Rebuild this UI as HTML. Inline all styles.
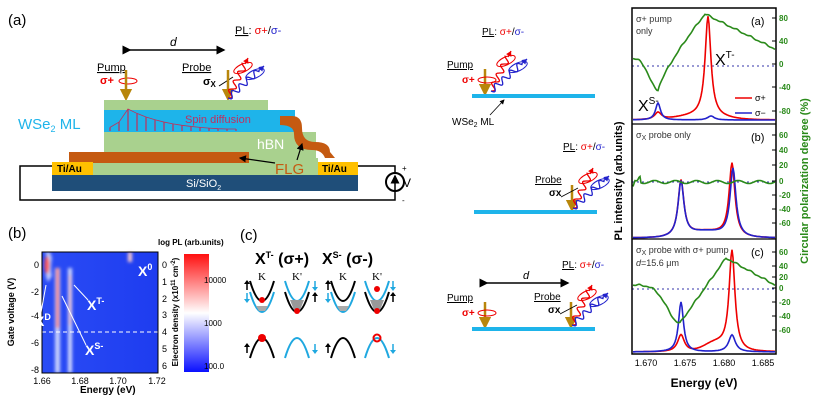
<!DOCTYPE html>
<html><head><meta charset="utf-8"><style>
body{margin:0;background:#fff;}
svg{display:block;font-family:"Liberation Sans",sans-serif;}
</style></head><body>
<svg id="s" width="840" height="406" viewBox="0 0 840 406" xmlns="http://www.w3.org/2000/svg">
<defs>
<marker id="ab" markerWidth="6" markerHeight="6" refX="5" refY="3" orient="auto"><path d="M0,0 L6,3 L0,6z" fill="#000"/></marker>
<marker id="ag" markerWidth="5" markerHeight="5" refX="2.5" refY="2.5" orient="auto"><path d="M0,0 L5,2.5 L0,5z" fill="#b8860b"/></marker>
<linearGradient id="cb" x1="0" y1="0" x2="0" y2="1"><stop offset="0" stop-color="#ff1010"/><stop offset="0.5" stop-color="#ffffff"/><stop offset="1" stop-color="#0a10ff"/></linearGradient>
<linearGradient id="hm" x1="0" y1="0" x2="1" y2="0"><stop offset="0" stop-color="#2a4cf5"/><stop offset="1" stop-color="#1e3cf0"/></linearGradient>
<filter id="bl"><feGaussianBlur stdDeviation="1.5"/></filter>
</defs>

<!-- ===== Panel (a) left ===== -->
<text x="8" y="25" font-size="15">(a)</text>
<line x1="130" y1="50" x2="224" y2="50" stroke="#000" stroke-width="1.5" marker-end="url(#ab)" marker-start="url(#ab)"/>
<text x="170" y="46" font-size="12" font-style="italic">d</text>
<text x="235" y="34" font-size="11"><tspan text-decoration="underline">PL</tspan>: <tspan fill="#e00">σ+</tspan>/<tspan fill="#22c">σ-</tspan></text>
<text x="97" y="71" font-size="11" text-decoration="underline">Pump</text>
<text x="100" y="84" font-size="11" font-weight="bold" fill="#e00">σ+</text>
<ellipse cx="128" cy="81" rx="9" ry="3" fill="none" stroke="#e00" stroke-width="1"/>
<line x1="126" y1="70" x2="126" y2="95" stroke="#b8860b" stroke-width="2.5" marker-end="url(#ag)"/>
<text x="182" y="71" font-size="11" text-decoration="underline">Probe</text>
<text x="203" y="85" font-size="11" font-weight="bold">σ<tspan font-size="8" dy="2">X</tspan></text>
<line x1="219" y1="86" x2="233" y2="77" stroke="#000" stroke-width="1"/>
<line x1="228" y1="70" x2="228" y2="95" stroke="#b8860b" stroke-width="2.5" marker-end="url(#ag)"/>
<g id="plA"></g>
<!-- layers -->
<rect x="104" y="100" width="164" height="12" fill="#a9d18e"/>
<rect x="104" y="110" width="191" height="22" fill="#1eb4ea"/>
<rect x="104" y="132" width="212" height="30" fill="#a9d18e"/>
<rect x="93" y="158" width="225" height="17" fill="#a9d18e"/>
<rect x="69" y="152" width="180" height="11" fill="#c55a11"/>
<path d="M280,116 L292,116 Q302,116 302,128 Q302,142 315,142 Q330,142 330,152 L335,158 L325,158 Q322,150 312,150 Q294,150 294,134 Q294,125 280,125z" fill="#c55a11"/>
<rect x="52" y="162" width="41" height="13" fill="#ffc000"/>
<rect x="318" y="162" width="40" height="13" fill="#ffc000"/>
<text x="57" y="172" font-size="10" font-weight="bold">Ti/Au</text>
<text x="322" y="172" font-size="10" font-weight="bold">Ti/Au</text>
<rect x="52" y="175" width="306" height="16" fill="#1f4e79"/>
<text x="186" y="187" font-size="11" fill="#fff">Si/SiO<tspan font-size="7" dy="3">2</tspan></text>
<path d="M52,166 H20 V200 H395 V166 H358" fill="none" stroke="#000" stroke-width="1.5"/>
<circle cx="395" cy="182" r="9" fill="#fff" stroke="#000" stroke-width="2"/>
<line x1="395" y1="190" x2="395" y2="176" stroke="#000" stroke-width="1.5" marker-end="url(#ab)"/>
<text x="402" y="171" font-size="8">+</text><text x="402" y="203" font-size="8">-</text>
<text x="403" y="187" font-size="12">V</text>
<text x="18" y="129" font-size="15" fill="#1eb4ea">WSe<tspan font-size="9" dy="3">2</tspan><tspan dy="-3"> ML</tspan></text>
<g id="spin"></g>
<text x="185" y="123" font-size="11" fill="#c03060">Spin diffusion</text>
<text x="257" y="149" font-size="14" fill="#fff">hBN</text>
<text x="275" y="174" font-size="15" fill="#c55a11">FLG</text>
<line x1="275" y1="163" x2="240" y2="158" stroke="#000" stroke-width="1.2" marker-end="url(#ab)"/>
<line x1="297" y1="160" x2="302" y2="144" stroke="#000" stroke-width="1.2" marker-end="url(#ab)"/>

<!-- ===== Panel (b) heatmap ===== -->
<text x="8" y="238" font-size="15">(b)</text>
<rect x="42" y="252" width="116" height="121" fill="url(#hm)"/>
<g filter="url(#bl)">
<path d="M45,252 Q50,262 47,268 Q44,274 48,282 L52,276 Q50,268 52,258 L50,252z" fill="#fff" opacity="0.7"/>
<ellipse cx="47" cy="265" rx="2.5" ry="9" fill="#f55"/>
<rect x="55" y="268" width="5" height="105" fill="#fff" opacity="0.75"/>
<rect x="56" y="268" width="3" height="60" fill="#f77"/>
<rect x="68" y="268" width="4" height="105" fill="#fff" opacity="0.8"/>
<rect x="69" y="275" width="2" height="50" fill="#fbb"/>
<rect x="128" y="252" width="4" height="10" fill="#fcc"/>
</g>
<line x1="42" y1="332" x2="158" y2="332" stroke="#fff" stroke-dasharray="4,3" stroke-width="1"/>
<rect x="42" y="252" width="116" height="121" fill="none" stroke="#000"/>
<text x="138" y="276" font-size="14" font-weight="bold" fill="#fff">X<tspan font-size="9" dy="-6">0</tspan></text>
<text x="35" y="326" font-size="14" font-weight="bold" fill="#fff">X<tspan font-size="9" dy="-6">D</tspan></text>
<text x="87" y="310" font-size="14" font-weight="bold" fill="#fff">X<tspan font-size="9" dy="-6">T-</tspan></text>
<text x="85" y="355" font-size="14" font-weight="bold" fill="#fff">X<tspan font-size="9" dy="-6">S-</tspan></text>
<line x1="88" y1="300" x2="74" y2="285" stroke="#fff"/><line x1="86" y1="345" x2="62" y2="296" stroke="#fff"/><line x1="40" y1="318" x2="46" y2="285" stroke="#fff"/>
<g font-size="9" text-anchor="end"><text x="39" y="268">0</text><text x="39" y="295">-2</text><text x="39" y="319">-4</text><text x="39" y="346">-6</text><text x="39" y="373">-8</text></g>
<g font-size="9" text-anchor="middle"><text x="42" y="384">1.66</text><text x="80" y="384">1.68</text><text x="118" y="384">1.70</text><text x="157" y="384">1.72</text></g>
<text x="80" y="393" font-size="10" font-weight="bold">Energy (eV)</text>
<g font-size="9"><text x="162" y="268">0</text><text x="162" y="285">1</text><text x="162" y="302">2</text><text x="162" y="318">3</text><text x="162" y="335">4</text><text x="162" y="352">5</text><text x="162" y="369">6</text></g>
<text transform="translate(14,312) rotate(-90)" font-size="9" font-weight="bold" text-anchor="middle">Gate voltage (V)</text>
<text transform="translate(178,312) rotate(-90)" font-size="8" font-weight="bold" text-anchor="middle">Electron density (x10<tspan font-size="6" dy="-3">11</tspan><tspan dy="3"> cm</tspan><tspan font-size="6" dy="-3">-2</tspan><tspan dy="3">)</tspan></text>
<text x="158" y="245" font-size="8" font-weight="bold">log PL (arb.units)</text>
<rect x="184" y="254" width="25" height="118" fill="url(#cb)"/>
<g font-size="8"><text x="204" y="283">10000</text><text x="204" y="326">1000</text><text x="204" y="369">100.0</text></g>

<!-- ===== Panel (c) bands ===== -->
<text x="240" y="240" font-size="15">(c)</text>
<text x="255" y="264" font-size="16" font-weight="bold">X<tspan font-size="9" dy="-6">T-</tspan><tspan dy="6"> (σ+)</tspan></text>
<text x="322" y="264" font-size="16" font-weight="bold">X<tspan font-size="9" dy="-6">S-</tspan><tspan dy="6"> (σ-)</tspan></text>
<g font-family="Liberation Serif" font-size="11" text-anchor="middle"><text x="262" y="280">K</text><text x="297" y="280">K'</text><text x="343" y="280">K</text><text x="377" y="280">K'</text></g>
<g id="bands" fill="none" stroke-width="2"></g>

<!-- ===== Middle schematics ===== -->
<g id="mid"></g>
<rect x="472" y="94" width="123" height="4" fill="#1eb4ea"/>
<rect x="474" y="210" width="123" height="4" fill="#1eb4ea"/>
<rect x="472" y="327" width="123" height="4" fill="#1eb4ea"/>
<text x="452" y="125" font-size="10">WSe<tspan font-size="7" dy="2">2</tspan><tspan dy="-2"> ML</tspan></text>
<line x1="490" y1="115" x2="504" y2="100" stroke="#000" stroke-width="0.8" marker-end="url(#ab)"/>
<line x1="487" y1="283" x2="568" y2="283" stroke="#000" stroke-width="1.5" marker-end="url(#ab)" marker-start="url(#ab)"/>
<text x="523" y="279" font-size="11" font-style="italic">d</text>

<!-- ===== Right plots ===== -->
<g id="plot"></g>
<rect x="632" y="8" width="144" height="346" fill="none" stroke="#000" stroke-width="1.5"/>
<line x1="632" y1="124" x2="776" y2="124" stroke="#000" stroke-width="1.2"/>
<line x1="632" y1="239" x2="776" y2="239" stroke="#000" stroke-width="1.2"/>
<g font-size="9" fill="#333"><text x="636" y="22">σ+ pump</text><text x="636" y="34">only</text><text x="636" y="138">σ<tspan font-size="7" dy="2">X</tspan><tspan dy="-2"> probe only</tspan></text><text x="636" y="253">σ<tspan font-size="7" dy="2">X</tspan><tspan dy="-2"> probe with σ+ pump</tspan></text><text x="636" y="266"><tspan font-style="italic">d</tspan>=15.6 μm</text></g>
<g font-size="11"><text x="751" y="25">(a)</text><text x="751" y="141">(b)</text><text x="751" y="256">(c)</text></g>
<text x="715" y="65" font-size="16">X<tspan font-size="10" dy="-7">T-</tspan></text>
<text x="638" y="111" font-size="16">X<tspan font-size="10" dy="-7">S-</tspan></text>
<line x1="735" y1="98" x2="752" y2="98" stroke="#e00" stroke-width="1.5"/><text x="755" y="101" font-size="9">σ+</text>
<line x1="735" y1="113" x2="752" y2="113" stroke="#22c" stroke-width="1.5"/><text x="755" y="116" font-size="9">σ−</text>
<g font-size="9" text-anchor="middle"><text x="646" y="366">1.670</text><text x="685" y="366">1.675</text><text x="724" y="366">1.680</text><text x="763" y="366">1.685</text></g>
<text x="704" y="387" font-size="12" font-weight="bold" text-anchor="middle">Energy (eV)</text>
<text transform="translate(622,181) rotate(-90)" font-size="11" font-weight="bold" text-anchor="middle">PL intensity (arb.units)</text>
<text transform="translate(808,181) rotate(-90)" font-size="11" font-weight="bold" fill="#2a8a1a" text-anchor="middle">Circular polarization degree (%)</text>
<g font-size="8" font-weight="bold" fill="#2a8a1a" id="rt"></g>
</svg>
<script>
var NS="http://www.w3.org/2000/svg";
function el(p,t,a){var e=document.createElementNS(NS,t);for(var k in a)e.setAttribute(k,a[k]);document.getElementById(p).appendChild(e);return e;}
function wave(p,x0,y0,x1,y1,col,amp){var dx=x1-x0,dy=y1-y0,L=Math.hypot(dx,dy),ux=dx/L,uy=dy/L,nx=-uy,ny=ux,d="";for(var i=0;i<=80;i++){var s=i/80*L*0.85,w=amp*Math.sin(s/1.6);d+=(i?"L":"M")+(x0+ux*s+nx*w).toFixed(1)+","+(y0+uy*s+ny*w).toFixed(1);}
el(p,"path",{d:d,fill:"none",stroke:col,"stroke-width":1.3});
var ex=x0+ux*L*0.85,ey=y0+uy*L*0.85;el(p,"line",{x1:ex,y1:ey,x2:x1,y2:y1,stroke:col,"stroke-width":1.3});
el(p,"path",{d:"M"+x1+","+y1+"L"+(x1-ux*5+nx*3)+","+(y1-uy*5+ny*3)+"L"+(x1-ux*5-nx*3)+","+(y1-uy*5-ny*3)+"z",fill:col});
el(p,"ellipse",{cx:x0+ux*L*0.75,cy:y0+uy*L*0.75,rx:10,ry:4,fill:"none",stroke:col,"stroke-width":1,transform:"rotate(-25 "+(x0+ux*L*0.75)+" "+(y0+uy*L*0.75)+")"});}
function pl(p,x,y){wave(p,x,y,x+20,y-40,"#e00",3);wave(p,x,y,x+36,y-32,"#22c",3);}
pl("plA",228,98);
// spin arrows
(function(){var d="";for(var i=0;i<15;i++){var x=110+i*9,h;if(x<128)h=22*Math.exp(-(128-x)/10);else h=Math.max(2,22*Math.exp(-(x-128)/40));el("spin","line",{x1:x,y1:131,x2:x,y2:131-h,stroke:"#c0305a","stroke-width":1.2});d+=(i?"L":"M")+x+","+(131-h);}el("spin","path",{d:d,fill:"none",stroke:"#c0305a","stroke-width":0.8});})();
// middle
function pump(x,y){el("mid","line",{x1:x,y1:y-25,x2:x,y2:y-4,stroke:"#b8860b","stroke-width":2.5,"marker-end":"url(#ag)"});el("mid","ellipse",{cx:x+2,cy:y-14,rx:9,ry:3,fill:"none",stroke:"#e00"});
var t=el("mid","text",{x:x-23,y:y-11,"font-size":10,"font-weight":"bold",fill:"#e00"});t.textContent="σ+";var u=el("mid","text",{x:x-38,y:y-26,"font-size":10,"text-decoration":"underline"});u.textContent="Pump";}
function probe(x,y){el("mid","line",{x1:x,y1:y-25,x2:x,y2:y-4,stroke:"#b8860b","stroke-width":2.5,"marker-end":"url(#ag)"});var u=el("mid","text",{x:x-37,y:y-27,"font-size":10,"text-decoration":"underline"});u.textContent="Probe";var t=el("mid","text",{x:x-23,y:y-14,"font-size":10,"font-weight":"bold"});t.textContent="σx";el("mid","line",{x1:x-11,y1:y-13,x2:x+6,y2:y-22,stroke:"#000","stroke-width":0.8});}
function plabel(x,y){var t=el("mid","text",{x:x,y:y,"font-size":10});t.innerHTML='<tspan text-decoration="underline">PL</tspan>: <tspan fill="#e00">σ+</tspan>/<tspan fill="#22c">σ-</tspan>';}
pump(485,94);pl("mid",491,91);plabel(482,35);
probe(572,210);pl("mid",573,208);plabel(563,150);
pump(485,327);probe(571,327);pl("mid",572,325);plabel(562,268);
// bands
function par(cx,top,col,up){var d="M"+(cx-12)+","+(up?top+20:top);d+=" Q"+cx+","+(up?top-20:top+40)+" "+(cx+12)+","+(up?top+20:top);el("bands","path",{d:d,stroke:col});}
function ar(x,y,up,col){el("bands","line",{x1:x,y1:up?y+9:y,x2:x,y2:up?y+2:y+7,stroke:col,"stroke-width":1.5});el("bands","path",{d:up?"M"+(x-3)+","+(y+3)+"L"+x+","+(y-1)+"L"+(x+3)+","+(y+3)+"z":"M"+(x-3)+","+(y+6)+"L"+x+","+(y+10)+"L"+(x+3)+","+(y+6)+"z",fill:col,stroke:"none"});}
var bl="#000",cy="#1fa8e0";
par(262,281,bl);par(262,292,cy);par(297,281,cy);par(297,292,bl);par(343,281,bl);par(343,292,cy);par(377,281,cy);par(377,292,bl);
el("bands","path",{d:"M290,300 L304,300 L300,310 L294,310z",fill:"#999",stroke:"none"});el("bands","path",{d:"M370,300 L384,300 L380,310 L374,310z",fill:"#999",stroke:"none"});
el("bands","path",{d:"M256,306 L268,306 L265,311 L259,311z",fill:"#aaa",stroke:"none"});el("bands","path",{d:"M337,306 L349,306 L346,311 L340,311z",fill:"#aaa",stroke:"none"});
[[262,300],[297,311],[377,311],[377,289]].forEach(function(p){el("bands","circle",{cx:p[0],cy:p[1],r:3,fill:"#e00",stroke:"none"});});
ar(247,281,1,bl);ar(247,293,0,cy);ar(315,281,0,cy);ar(315,293,1,bl);ar(328,281,1,bl);ar(328,293,0,cy);ar(393,281,0,cy);ar(393,293,1,bl);
par(262,338,bl,1);par(297,338,cy,1);par(343,338,bl,1);par(377,338,cy,1);
el("bands","circle",{cx:262,cy:338,r:4,fill:"#e00",stroke:"none"});el("bands","circle",{cx:377,cy:338,r:3.5,fill:"none",stroke:"#e00"});
ar(247,344,1,bl);ar(315,344,0,cy);ar(328,344,1,bl);ar(393,344,0,cy);
// plots
function lor(x,c,w){return 1/(1+Math.pow((x-c)/w,2));}
function nz(x){return 0.6*Math.sin(x*0.45)+0.4*Math.sin(x*0.9+1);}
function curve(f,col){var d="";for(var x=633;x<=775;x+=1){d+=(x>633?"L":"M")+x+","+f(x).toFixed(1);}el("plot","path",{d:d,fill:"none",stroke:col,"stroke-width":1.6});}
[66,182,289].forEach(function(y){el("plot","line",{x1:632,y1:y,x2:776,y2:y,stroke:"#33a","stroke-width":1,"stroke-dasharray":"2,3"});});
// a
curve(function(x){return 120-100*lor(x,708,3.5)-7*lor(x,658,4)-4*Math.exp(-(x-700)*(x-700)/900);},"#e00");
curve(function(x){return 120-17*lor(x,658,3)-4*lor(x,711,4);},"#22c");
curve(function(x){var y;if(x<658)y=58+32*Math.exp(-Math.pow((x-658)/12,2));else if(x<705)y=90-76*Math.pow((x-658)/47,0.8);else y=14+(x-705)*0.5;return y+nz(x);},"#2a8a1a");
// b
curve(function(x){return 238-56*lor(x,681,3.5)-73*lor(x,732,3.5)-6*Math.exp(-Math.pow((x-706)/25,2));},"#e00");
curve(function(x){return 238-55*lor(x,681,3.5)-68*lor(x,733,3.5)-6*Math.exp(-Math.pow((x-706)/25,2));},"#22c");
curve(function(x){return 182-1.5*Math.sin(x*0.3)-(x<641&&x>634?6*Math.exp(-Math.pow((x-640)/2,2)):0)+(x<635?(635-x)*3:0);},"#2a8a1a");
// c
curve(function(x){return 352-17*lor(x,681,4)-100*lor(x,732,3.5)-8*Math.exp(-Math.pow((x-715)/15,2));},"#e00");
curve(function(x){return 352-50*lor(x,681,3)-17*lor(x,732,4);},"#22c");
curve(function(x){var y;if(x<680)y=285+38*Math.exp(-Math.pow((x-680)/18,2));else if(x<726)y=323-65*(x-680)/46;else y=258+(x-726)*0.55;return y+nz(x);},"#2a8a1a");
// right ticks
var rt=[[80,21],[40,44],[0,67],[-40,90],[-80,114],[60,138],[40,153],[20,168],[0,184],[-20,198],[-40,212],[-60,226],[60,255],[40,269],[20,280],[0,291],[-20,305],[-40,319],[-60,333]];
rt.forEach(function(r){var t=el("rt","text",{x:779,y:r[1]});t.textContent=r[0];el("plot","line",{x1:772,y1:r[1]-3,x2:776,y2:r[1]-3,stroke:"#000"});});
</script>
</body></html>
